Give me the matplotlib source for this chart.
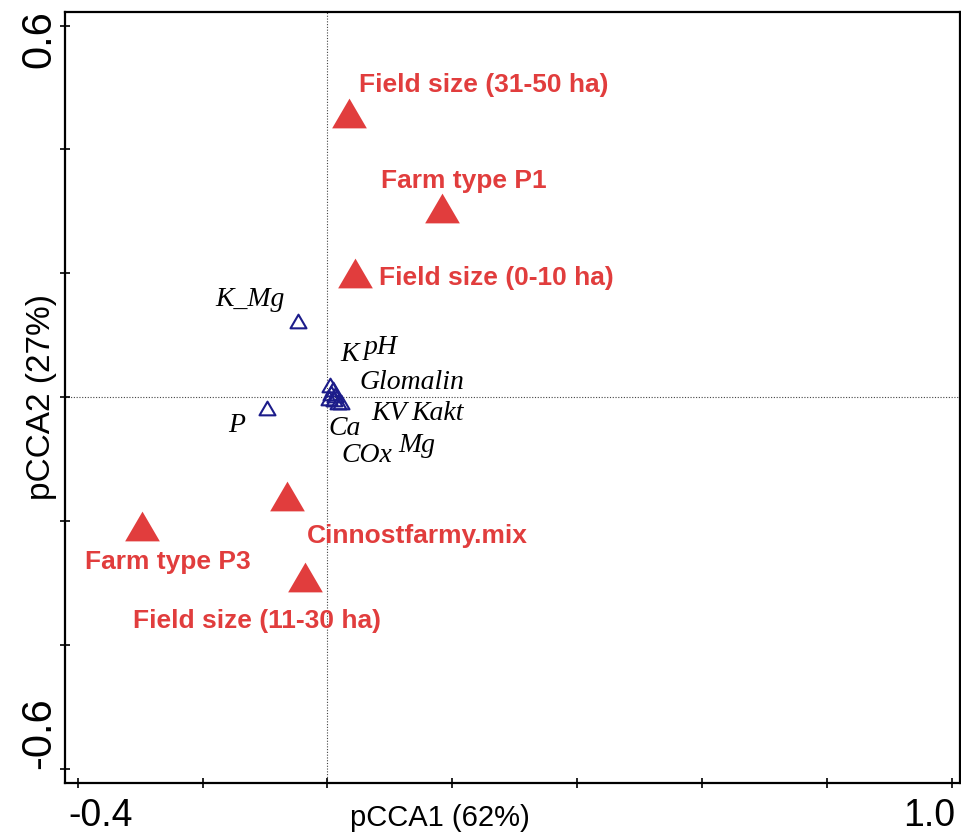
import numpy as np
import matplotlib
matplotlib.use("Agg")
import matplotlib.pyplot as plt
from matplotlib.path import Path

# ---------------- data ----------------
env_names = ["Field size (31-50 ha)", "Farm type P1", "Field size (0-10 ha)",
             "Cinnostfarmy.mix", "Farm type P3", "Field size (11-30 ha)"]
env_x = [0.034, 0.184, 0.044, -0.065, -0.297, -0.036]
env_y = [0.458, 0.306, 0.200, -0.160, -0.207, -0.290]

sp_names = ["K_Mg", "P", "K", "pH", "Glomalin", "KV", "Ca", "COx", "Kakt", "Mg"]
sp_x = [-0.048, -0.097, 0.004, 0.009, 0.006, 0.012, 0.002, 0.010, 0.017, 0.022]
sp_y = [0.123, -0.017, 0.019, 0.013, 0.007, 0.003, -0.002, -0.003, -0.007, -0.008]

x_ticks = [-0.4, -0.2, 0.0, 0.2, 0.4, 0.6, 0.8, 1.0]
y_ticks = [-0.6, -0.4, -0.2, 0.0, 0.2, 0.4, 0.6]
x_label = "pCCA1 (62%)"
y_label = "pCCA2 (27%)"

# ---------------- layout (label anchors, data coords) ----------------
env_lab_pos = [(0.051, 0.492), (0.085, 0.338), (0.083, 0.181),
               (-0.033, -0.2345), (-0.388, -0.2776), (-0.311, -0.3717)]
sp_lab_pos = [(-0.180, 0.147), (-0.159, -0.056), (0.020, 0.059), (0.058, 0.069),
              (0.052, 0.014), (0.071, -0.037), (0.001, -0.061), (0.023, -0.105),
              (0.135, -0.037), (0.113, -0.089)]

RED = "#e13d3d"
BLUE = "#1c1c8a"

fig = plt.figure(figsize=(9.61, 8.35), dpi=100)
ax = fig.add_axes([65 / 961, 1 - 782.5 / 835, (960 - 65) / 961, (782.5 - 12) / 835])
ax.set_xlim(-0.4203, 1.0128)
ax.set_ylim(-0.6218, 0.6218)

ax.axhline(0, color="#444444", lw=0.8, ls=(0, (1, 1.5)), zorder=1)
ax.axvline(0, color="#444444", lw=0.8, ls=(0, (1, 1.5)), zorder=1)

tri = Path([(-1, -0.857), (1, -0.857), (0, 0.857), (-1, -0.857)],
           [Path.MOVETO, Path.LINETO, Path.LINETO, Path.CLOSEPOLY])
ax.plot(env_x, env_y, ls="none", marker=tri, markersize=25, color=RED,
        markeredgewidth=0, zorder=3)
ax.plot(sp_x, sp_y, ls="none", marker=tri, markersize=11.5, markerfacecolor="none",
        markeredgecolor=BLUE, markeredgewidth=1.5, zorder=4)

for name, (lx, ly) in zip(env_names, env_lab_pos):
    ax.text(lx, ly, name, color=RED, fontsize=19, fontweight="bold",
            family="Liberation Sans", ha="left", va="baseline", zorder=5)
for name, (lx, ly) in zip(sp_names, sp_lab_pos):
    ax.text(lx, ly, name, color="black", fontsize=20, style="italic",
            family="Liberation Serif", ha="left", va="baseline", zorder=5)

# ticks
ax.set_xticks(x_ticks)
ax.set_yticks(y_ticks)
ax.set_xticklabels([])
ax.set_yticklabels([])
ax.tick_params(direction="inout", length=7, width=1.2, top=False, right=False)
for s in ax.spines.values():
    s.set_linewidth(1.6)

# tick labels (only extremes labelled)
xt = ax.get_xaxis_transform()
yt = ax.get_yaxis_transform()
ax.text(-0.4155, -0.057, "-0.4", transform=xt, ha="left", va="baseline",
        fontsize=27, family="Liberation Sans", clip_on=False)
ax.text(1.0048, -0.057, "1.0", transform=xt, ha="right", va="baseline",
        fontsize=27, family="Liberation Sans", clip_on=False)
ax.text(-0.0168, 0.6245, "0.6", transform=yt, rotation=90, rotation_mode="anchor",
        ha="right", va="baseline", fontsize=30, family="Liberation Sans", clip_on=False)
ax.text(-0.0168, -0.6, "-0.6", transform=yt, rotation=90, rotation_mode="anchor",
        ha="left", va="baseline", fontsize=30, family="Liberation Sans", clip_on=False)

# axis titles
ax.text(0.3184, -0.057, x_label, transform=ax.transAxes, ha="left", va="baseline",
        fontsize=21, family="Liberation Sans", clip_on=False)
ax.text(-0.0257, 0.5, y_label, transform=ax.transAxes, rotation=90, ha="center",
        va="center", fontsize=24, family="Liberation Sans", clip_on=False)

fig.savefig("out.png", dpi=100)
